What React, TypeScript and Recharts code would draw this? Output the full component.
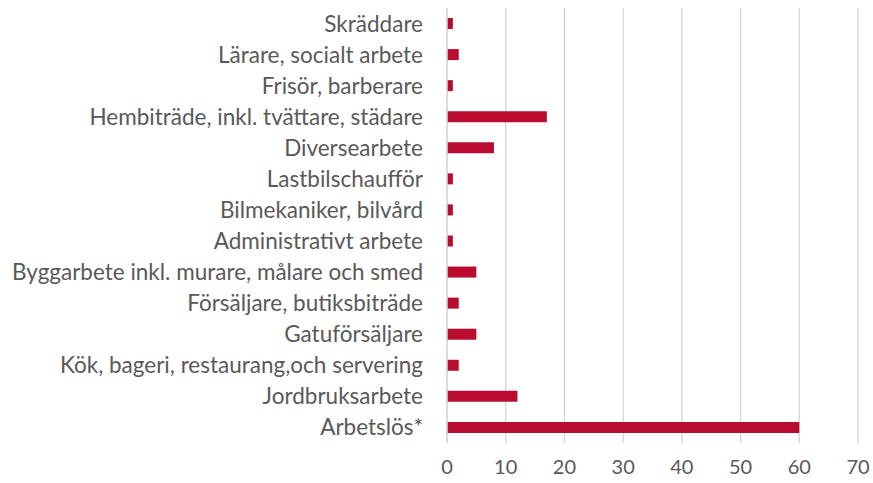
import React from 'react';
import { BarChart, Bar, XAxis, YAxis, CartesianGrid } from 'recharts';

const categories = [
  'Skräddare',
  'Lärare, socialt arbete',
  'Frisör, barberare',
  'Hembiträde, inkl. tvättare, städare',
  'Diversearbete',
  'Lastbilschaufför',
  'Bilmekaniker, bilvård',
  'Administrativt arbete',
  'Byggarbete inkl. murare, målare och smed',
  'Försäljare, butiksbiträde',
  'Gatuförsäljare',
  'Kök, bageri, restaurang,och servering',
  'Jordbruksarbete',
  'Arbetslös*',
];
const values = [1, 2, 1, 17, 8, 1, 1, 1, 5, 2, 5, 2, 12, 60];
const xTicks = [0, 10, 20, 30, 40, 50, 60, 70];

const data = categories.map((name, i) => ({ name, value: values[i] }));

const FONT = 'Lato, "Open Sans", sans-serif';
const TEXT = '#595959';
const GRID = '#d9d9d9';

export default function App() {
  return (
    <div style={{ position: 'absolute', left: 0, top: 0, background: '#fff' }}>
      <BarChart
        width={873}
        height={483}
        data={data}
        layout="vertical"
        margin={{ top: 8, right: 15, bottom: 0, left: 0 }}
        barCategoryGap={10}
      >
        <CartesianGrid horizontal={false} vertical stroke={GRID} strokeWidth={1.5} />
        <XAxis
          type="number"
          domain={[0, 70]}
          ticks={xTicks}
          interval={0}
          axisLine={false}
          tickLine={false}
          tickSize={0}
          tickMargin={17}
          height={40}
          tick={{ fill: TEXT, fontSize: 20, fontFamily: FONT }}
        />
        <YAxis
          type="category"
          dataKey="name"
          width={447}
          interval={0}
          axisLine={{ stroke: GRID, strokeWidth: 1.5 }}
          tickLine={false}
          tickSize={0}
          tickMargin={24}
          tick={{ fill: TEXT, fontSize: 22.5, fontFamily: FONT }}
        />
        <Bar dataKey="value" fill="#BA0C2F" barSize={11} isAnimationActive={false} />
      </BarChart>
    </div>
  );
}
